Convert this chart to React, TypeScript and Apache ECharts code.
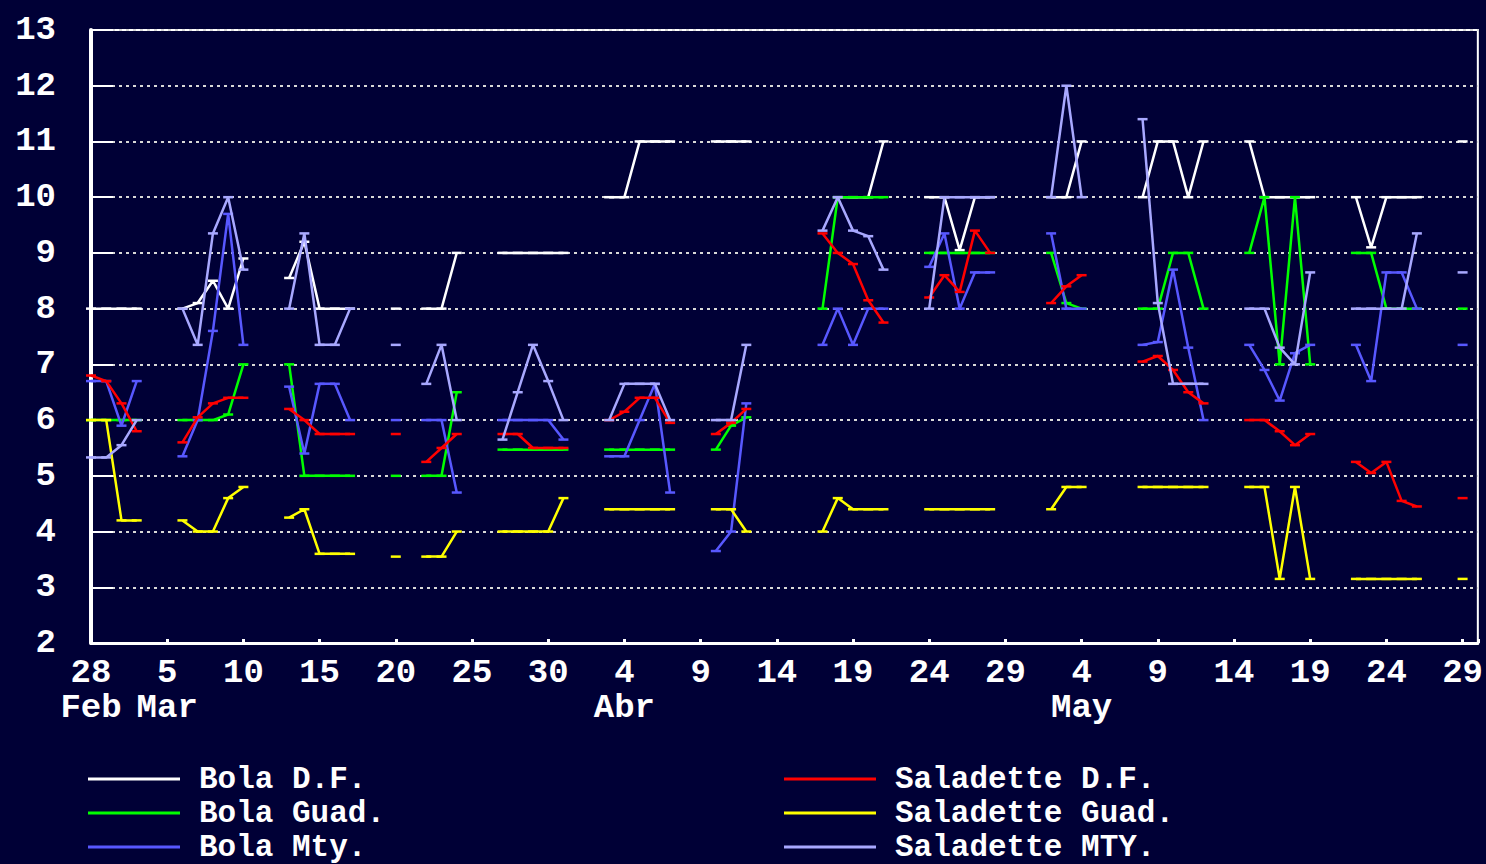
import React, { useEffect, useRef } from "react";
import * as echarts from "echarts";

// Calendar day offsets from 28 Feb (weekdays with quotes)
const tradeDays = [
  0, 1, 2, 3,
  6, 7, 8, 9, 10,
  13, 14, 15, 16, 17,
  20, 21, 22, 23, 24,
  27, 28, 29, 30, 31,
  34, 35, 36, 37, 38,
  41, 42, 43, 44, 45,
  48, 49, 50, 51, 52,
  55, 56, 57, 58, 59,
  62, 63, 64, 65, 66,
  69, 70, 71, 72, 73,
  76, 77, 78, 79, 80,
  83, 84, 85, 86, 87,
  90,
];

const seriesNames = [
  "Bola D.F.",
  "Bola Guad.",
  "Bola Mty.",
  "Saladette D.F.",
  "Saladette Guad.",
  "Saladette MTY.",
];

const bolaDF = [
  8, 8, 8, 8,
  8, 8.1, 8.5, 8, 8.9,
  8.55, 9.2, 8, 8, 8,
  8, null, 8, 8, 9,
  9, 9, 9, 9, 9,
  10, 10, 11, 11, 11,
  11, 11, 11, null, null,
  null, 10, 10, 10, 11,
  10, 10, 9.05, 10, 10,
  null, 10, 10, 11, null,
  10, 11, 11, 10, 11,
  11, 10, 10, 10, 10,
  10, 9.1, 10, 10, 10,
  11,
];

const bolaGuad = [
  6, 6, 6, 6,
  6, 6, 6, 6.1, 7,
  7, 5, 5, 5, 5,
  5, null, 5, 5, 6.5,
  5.47, 5.47, 5.47, 5.47, 5.47,
  5.47, 5.47, 5.47, 5.47, 5.47,
  5.47, 5.9, 6.05, null, null,
  8, 10, 10, 10, 10,
  9, 9, 9, 9, 9,
  null, 9, 8.1, 8, null,
  8, 8, 9, 9, 8,
  9, 10, 7, 10, 7,
  9, 9, 8, 8, 8,
  8,
];

const bolaMty = [
  6.7, 6.7, 5.9, 6.7,
  5.35, 6, 7.6, 9.7, 7.35,
  6.6, 5.4, 6.65, 6.65, 6,
  6, null, 6, 6, 4.7,
  6, 6, 6, 6, 5.65,
  5.35, 5.35, 6, 6.65, 4.7,
  3.65, 4, 6.3, null, null,
  7.35, 8, 7.35, 8, 8,
  8.75, 9.35, 8, 8.65, 8.65,
  null, 9.35, 8, 8, null,
  7.35, 7.4, 8.7, 7.3, 6,
  7.35, 6.9, 6.35, 7.2, 7.35,
  7.35, 6.7, 8.65, 8.65, 8,
  7.35,
];

const saladetteDF = [
  6.8, 6.7, 6.3, 5.8,
  5.6, 6.05, 6.3, 6.4, 6.4,
  6.2, 6, 5.75, 5.75, 5.75,
  5.75, null, 5.25, 5.5, 5.75,
  5.75, 5.75, 5.5, 5.5, 5.5,
  6, 6.15, 6.4, 6.4, 5.95,
  5.75, 5.95, 6.2, null, null,
  9.35, 9, 8.8, 8.15, 7.75,
  8.2, 8.6, 8.3, 9.4, 9,
  null, 8.1, 8.4, 8.6, null,
  7.05, 7.15, 6.9, 6.5, 6.3,
  6, 6, 5.8, 5.55, 5.75,
  5.25, 5.05, 5.25, 4.55, 4.45,
  4.6,
];

const saladetteGuad = [
  6, 6, 4.2, 4.2,
  4.2, 4, 4, 4.6, 4.8,
  4.25, 4.4, 3.6, 3.6, 3.6,
  3.55, null, 3.55, 3.55, 4,
  4, 4, 4, 4, 4.6,
  4.4, 4.4, 4.4, 4.4, 4.4,
  4.4, 4.4, 4, null, null,
  4, 4.6, 4.4, 4.4, 4.4,
  4.4, 4.4, 4.4, 4.4, 4.4,
  null, 4.4, 4.8, 4.8, null,
  4.8, 4.8, 4.8, 4.8, 4.8,
  4.8, 4.8, 3.15, 4.8, 3.15,
  3.15, 3.15, 3.15, 3.15, 3.15,
  3.15,
];

const saladetteMTY = [
  5.33, 5.33, 5.55, 6,
  8, 7.35, 9.35, 10, 8.7,
  8, 9.35, 7.35, 7.35, 8,
  7.35, null, 6.65, 7.35, 6,
  5.65, 6.5, 7.35, 6.7, 6,
  6, 6.65, 6.65, 6.65, 6,
  6, 6, 7.35, null, null,
  9.4, 10, 9.4, 9.3, 8.7,
  8, 10, 10, 10, 10,
  null, 10, 12, 10, null,
  11.4, 8.1, 6.65, 6.65, 6.65,
  8, 8, 7.3, 7, 8.65,
  8, 8, 8, 8, 9.35,
  8.65,
];

const seriesValues = [bolaDF, bolaGuad, bolaMty, saladetteDF, saladetteGuad, saladetteMTY];
const seriesColors = ["#ffffff", "#00ff00", "#5858ff", "#ff0000", "#ffff00", "#a8a8ff"];

// x tick labels every 5 days from 28 Feb
const dayTickLabels = ["28", "5", "10", "15", "20", "25", "30", "4", "9", "14", "19", "24", "29", "4", "9", "14", "19", "24", "29"];
const monthTickLabels = ["Feb", "Mar", "", "", "", "", "", "Abr", "", "", "", "", "", "May", "", "", "", "", ""];

const BG = "#000036";
const FONT = "'Liberation Mono', 'DejaVu Sans Mono', monospace";

function buildData(values: (number | null)[]) {
  const out: any[] = [];
  tradeDays.forEach((d, i) => {
    if (i > 0 && d - tradeDays[i - 1] > 1) out.push([d - 1, "-"]);
    const v = values[i];
    out.push([d, v == null ? "-" : v]);
  });
  return out;
}

const labelStyle = {
  color: "#ffffff",
  fontFamily: FONT,
  fontWeight: "bold" as const,
  fontSize: 34,
};

function legendBlock(names: string[], left: number) {
  return {
    data: names,
    orient: "vertical",
    left,
    top: 762,
    padding: 0,
    icon: "rect",
    itemWidth: 92,
    itemHeight: 3,
    itemGap: 0,
    selectedMode: false,
    textStyle: { ...labelStyle, fontSize: 31, lineHeight: 34, padding: [0, 0, 0, 14] },
  };
}

function buildOption() {
  return {
    animation: false,
    backgroundColor: BG,
    grid: {
      left: 91,
      right: 8,
      top: 30,
      bottom: 221,
      show: true,
      borderColor: "#ffffff",
      borderWidth: 2,
      backgroundColor: "transparent",
    },
    xAxis: {
      type: "value",
      min: 0,
      max: 91,
      interval: 5,
      splitLine: { show: false },
      axisLine: { show: true, lineStyle: { color: "#ffffff", width: 3 } },
      axisTick: { show: true, inside: true, length: 4, lineStyle: { color: "#ffffff", width: 3 } },
      axisLabel: {
        ...labelStyle,
        margin: 12,
        lineHeight: 35,
        formatter: (v: number) => {
          if (v % 5 !== 0) return "";
          const i = v / 5;
          const m = monthTickLabels[i];
          return m ? `${dayTickLabels[i]}\n${m}` : dayTickLabels[i];
        },
      },
    },
    yAxis: {
      type: "value",
      min: 2,
      max: 13,
      interval: 1,
      axisLine: { show: true, lineStyle: { color: "#ffffff", width: 4 } },
      axisTick: { show: true, inside: true, length: 22, lineStyle: { color: "#ffffff", width: 2 } },
      axisLabel: { ...labelStyle, margin: 35 },
      splitLine: { show: true, lineStyle: { color: "#d8d8d8", width: 2, type: [3, 4] } },
    },
    legend: [legendBlock(seriesNames.slice(0, 3), 88), legendBlock(seriesNames.slice(3), 784)],
    series: seriesNames.map((name, k) => ({
      name,
      type: "line",
      data: buildData(seriesValues[k]),
      connectNulls: false,
      showSymbol: true,
      showAllSymbol: true,
      symbol: "rect",
      symbolSize: [10, 2.5],
      color: seriesColors[k],
      itemStyle: { color: seriesColors[k] },
      lineStyle: { color: seriesColors[k], width: 2.5 },
      emphasis: { disabled: true },
      silent: true,
      z: 2 + k,
    })),
  };
}

export default function App() {
  const ref = useRef<HTMLDivElement>(null);
  useEffect(() => {
    if (!ref.current) return;
    const chart = echarts.init(ref.current, null, { renderer: "svg" });
    chart.setOption(buildOption() as any);
    return () => chart.dispose();
  }, []);
  return (
    <div
      ref={ref}
      style={{ position: "fixed", left: 0, top: 0, width: 1486, height: 864, background: BG }}
    />
  );
}
